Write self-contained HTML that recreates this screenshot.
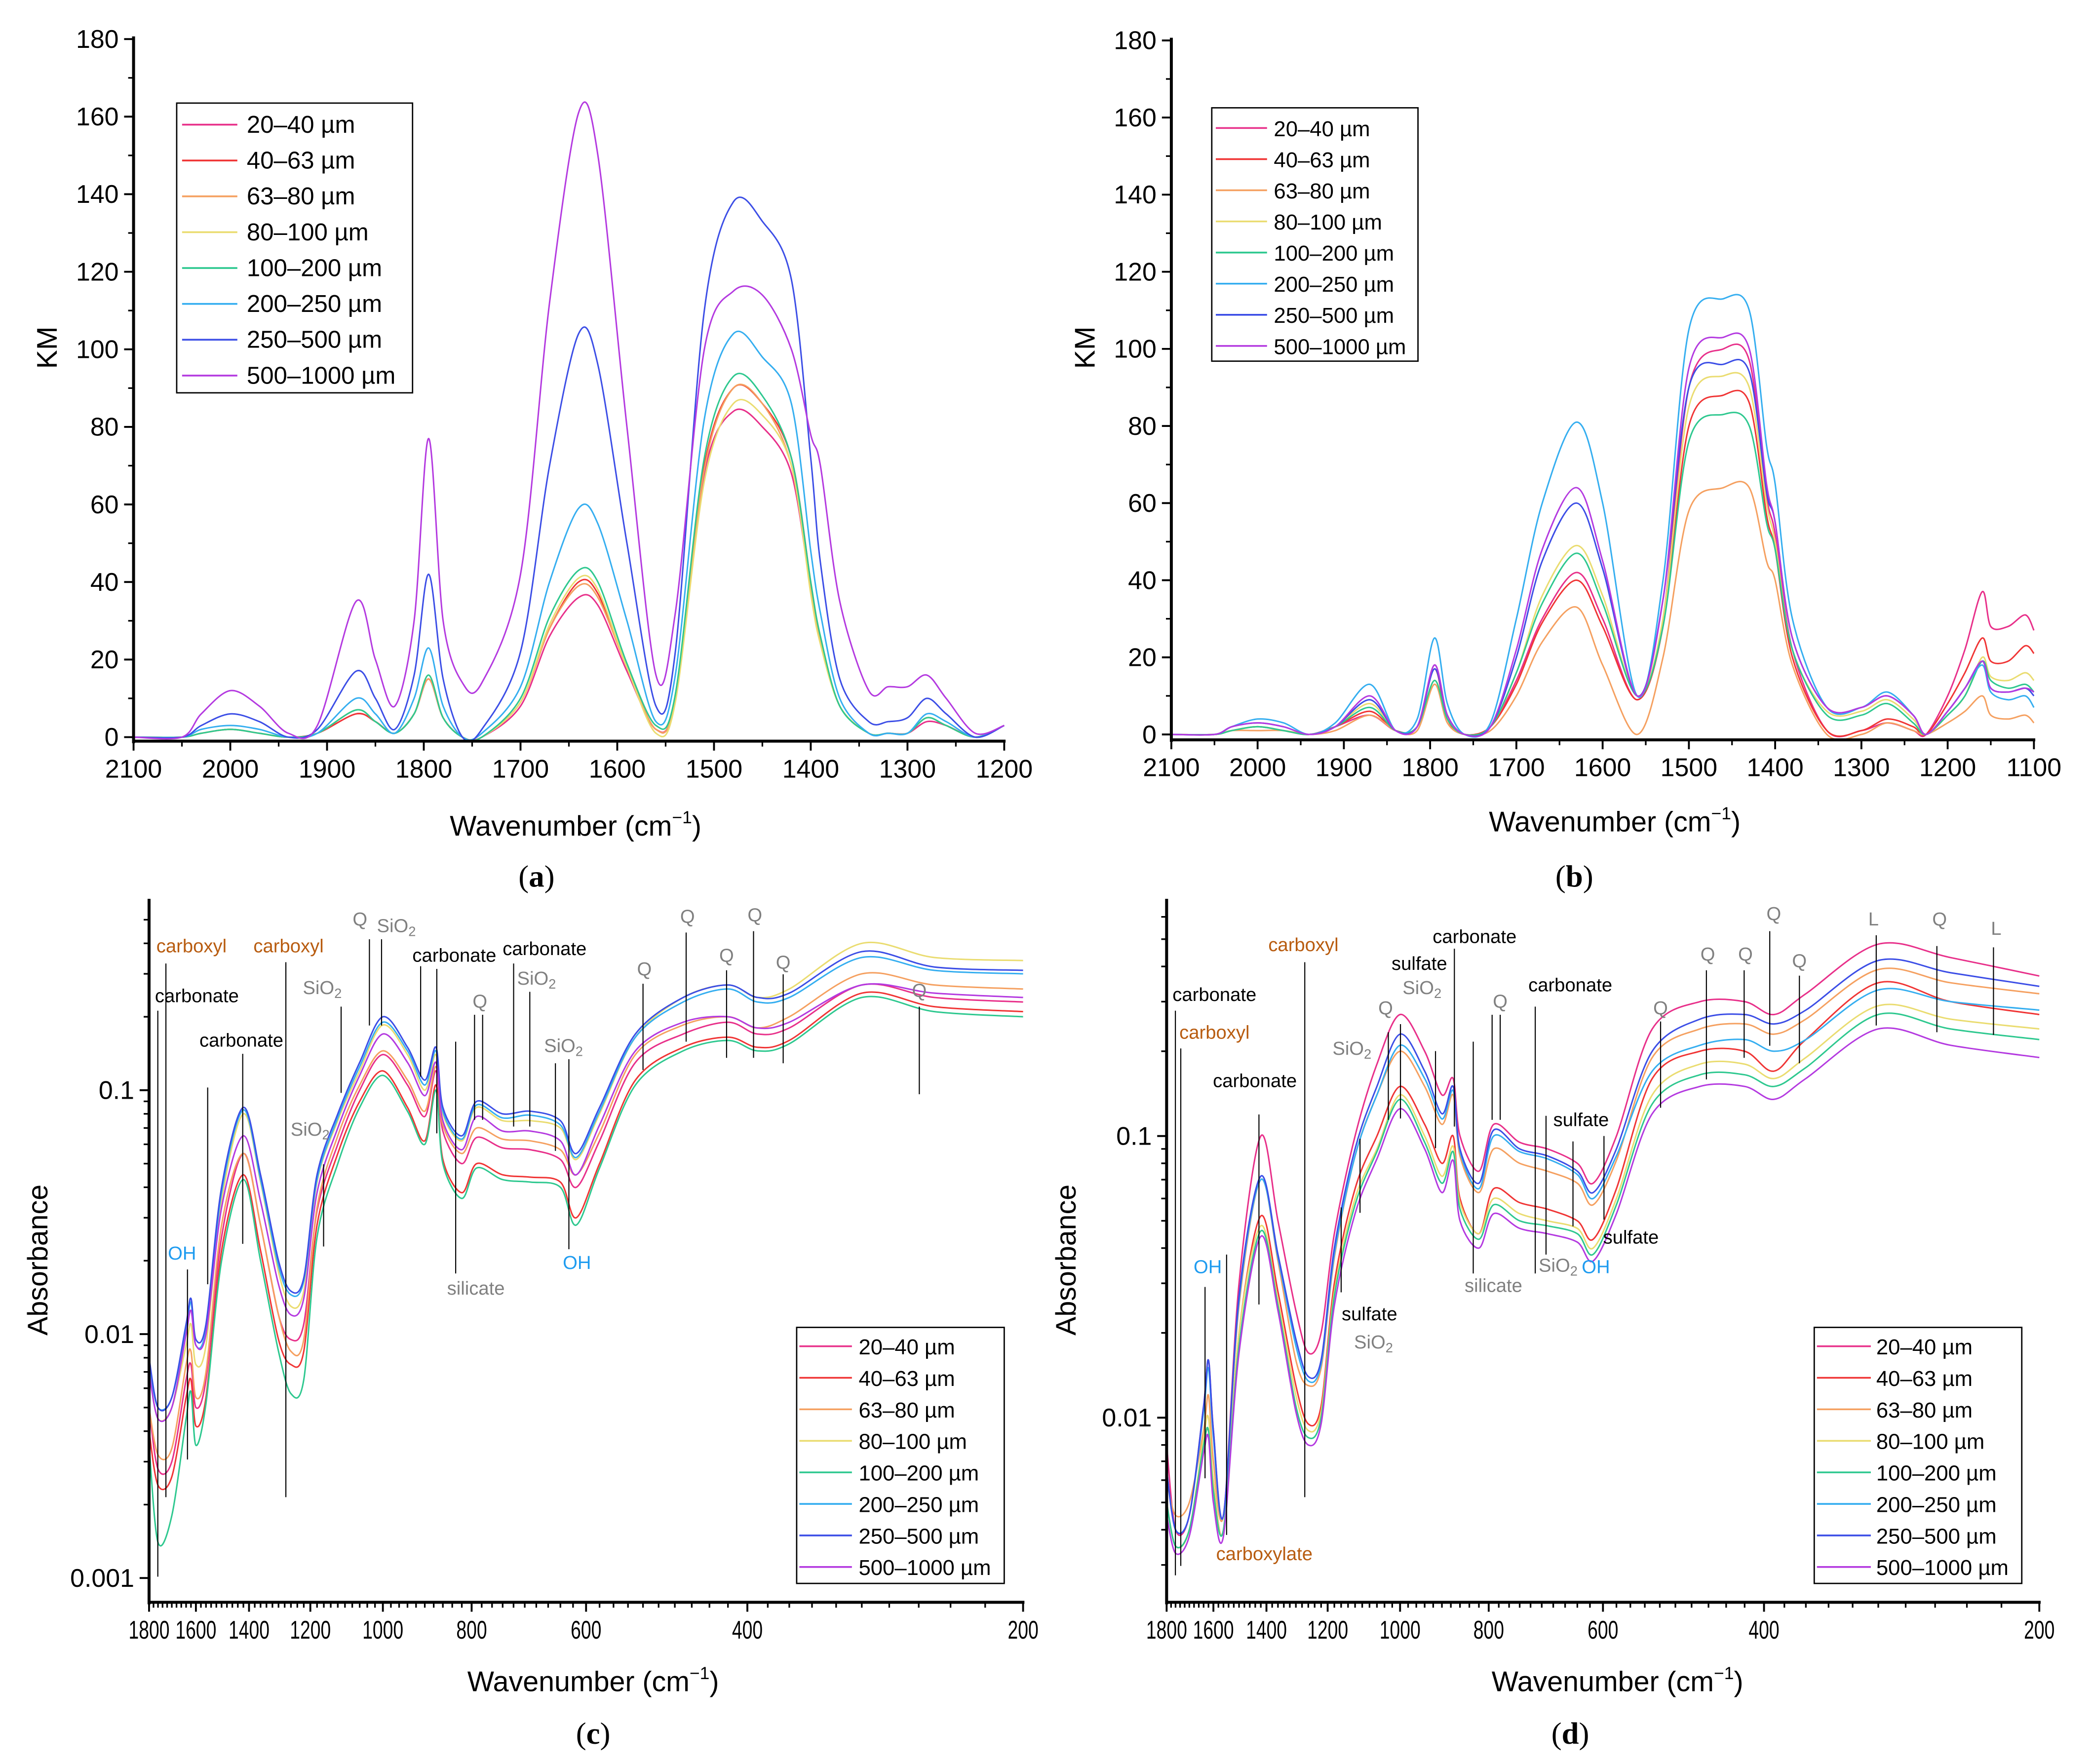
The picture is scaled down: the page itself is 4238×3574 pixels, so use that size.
<!DOCTYPE html>
<html><head><meta charset="utf-8"><style>
html,body{margin:0;padding:0;background:#fff;}
svg{display:block;}
text{font-family:"Liberation Sans Narrow","Liberation Sans",sans-serif;}
</style></head><body>
<svg id="fig" xmlns="http://www.w3.org/2000/svg" width="4238" height="3574" viewBox="0 0 1552 1309"></svg>
<script>
const seriesNames=["20–40 µm","40–63 µm","63–80 µm","80–100 µm","100–200 µm","200–250 µm","250–500 µm","500–1000 µm"];
const seriesColors=["#e8308a","#f03535","#f5a060","#eadc70","#2ec88f","#35aef0","#3c4ee6","#b43ae0"];
// Panel (a)
const waveA=[2100,2050,2030,2000,1970,1940,1910,1870,1850,1830,1810,1795,1780,1760,1740,1700,1670,1640,1620,1590,1560,1540,1510,1480,1450,1420,1400,1390,1370,1340,1320,1300,1280,1260,1230,1200];
const a20=[0,0,1,2,1,0,1,6,4,1,6,15,5,0,0,8,26,36,34,17,2,10,68,84,80,68,38,25,8,1,1,1,4,3,0,3];
const a40=[0,0,1,2,1,0,1,6,4,1,6,15,5,0,0,9,28,40,37,18,2,10,70,90,86,72,40,25,8,1,1,1,5,3,0,3];
const a63=[0,0,1,2,1,0,1,7,4,1,6,15,5,0,0,9,28,39,36,18,2,10,69,90,86,70,38,25,8,1,1,1,5,3,0,3];
const a80=[0,0,1,2,1,0,1,7,4,1,6,16,5,0,0,9,29,41,38,18,1,9,66,86,83,70,37,24,8,1,1,1,5,3,0,3];
const a100=[0,0,1,2,1,0,1,7,4,1,6,16,5,0,0,10,31,43,40,19,3,11,72,93,88,72,40,26,8,1,1,1,5,3,0,3];
const a200=[0,0,2,3,2,0,1,10,6,1,10,23,8,0,1,13,40,59,55,30,4,16,82,104,98,86,48,32,10,1,1,1,6,4,0,3];
const a250=[0,0,3,6,4,0,2,17,10,2,16,42,15,0,2,22,70,104,96,50,8,22,110,138,133,118,72,45,15,4,4,5,10,6,0,3];
const a500=[0,0,6,12,8,1,3,35,20,8,30,77,30,14,14,42,112,161,150,80,16,32,100,115,114,100,78,70,35,12,13,13,16,10,1,3];
// Panel (b)
const waveB=[2100,2050,2030,2000,1970,1940,1910,1870,1840,1815,1795,1780,1760,1730,1700,1670,1630,1600,1560,1530,1500,1460,1430,1410,1400,1380,1340,1300,1270,1240,1225,1200,1180,1160,1150,1130,1110,1100];
const b20=[0,0,1,2,1,0,2,5,1,2,18,5,0,2,14,30,42,30,9,30,90,100,97,62,52,22,1,1,3,1,0,10,22,37,28,28,31,27];
const b40=[0,0,1,2,1,0,2,6,1,2,17,4,0,2,13,29,40,28,9,28,80,88,86,57,48,20,1,1,4,2,0,8,16,25,19,19,23,21];
const b63=[0,0,1,1,1,0,1,5,1,1,13,3,0,1,10,24,33,18,0,20,58,64,64,45,40,18,0,0,3,1,0,3,6,10,5,4,5,3];
const b80=[0,0,1,2,1,0,2,8,1,2,14,4,0,2,16,36,49,36,10,30,85,93,90,60,50,22,6,6,9,4,0,5,10,20,15,14,16,14];
const b100=[0,0,1,2,1,0,2,7,1,2,14,4,0,2,16,34,47,34,10,28,76,83,80,55,48,22,5,5,8,3,0,5,10,19,14,12,13,11];
const b200=[0,0,2,4,3,0,3,13,1,4,25,8,0,3,30,60,81,60,10,40,105,113,110,75,65,30,7,7,11,5,0,6,12,18,11,9,10,7];
const b250=[0,0,2,3,2,0,2,9,1,2,17,5,0,2,20,45,60,43,10,35,90,96,94,63,55,25,7,7,10,5,0,6,12,19,12,11,12,10];
const b500=[0,0,2,3,2,0,2,10,1,2,18,5,0,2,22,48,64,45,10,35,95,103,100,65,55,25,7,7,10,5,0,6,12,19,12,11,12,11];
// Panel (c)
const waveC=[1800,1760,1700,1640,1620,1600,1560,1500,1420,1360,1300,1260,1220,1180,1120,1060,1000,940,900,875,860,820,790,740,690,640,615,580,530,470,420,390,360,300,250,200];
const c20=[0.005,0.0028,0.003,0.0065,0.0075,0.005,0.0065,0.025,0.055,0.028,0.012,0.0095,0.011,0.032,0.06,0.1,0.14,0.105,0.078,0.12,0.068,0.05,0.064,0.058,0.057,0.052,0.04,0.062,0.13,0.17,0.19,0.17,0.18,0.27,0.24,0.23];
const c40=[0.004,0.0024,0.0026,0.0055,0.0065,0.0042,0.0055,0.022,0.045,0.022,0.0095,0.0075,0.0085,0.028,0.055,0.09,0.12,0.085,0.062,0.105,0.052,0.038,0.05,0.045,0.044,0.042,0.03,0.05,0.11,0.15,0.165,0.15,0.16,0.25,0.22,0.21];
const c63=[0.005,0.0032,0.0034,0.0075,0.0085,0.0055,0.007,0.028,0.055,0.028,0.012,0.0085,0.0095,0.033,0.065,0.105,0.145,0.11,0.082,0.125,0.072,0.055,0.07,0.063,0.062,0.057,0.045,0.067,0.14,0.185,0.2,0.18,0.2,0.3,0.27,0.26];
const c80=[0.007,0.0045,0.005,0.009,0.011,0.0075,0.009,0.035,0.08,0.042,0.018,0.013,0.015,0.042,0.075,0.12,0.185,0.14,0.1,0.14,0.08,0.062,0.085,0.075,0.075,0.07,0.052,0.08,0.165,0.24,0.27,0.24,0.26,0.4,0.35,0.34];
const c100=[0.0035,0.0014,0.0018,0.0045,0.0058,0.0035,0.0052,0.02,0.043,0.02,0.0085,0.0057,0.0065,0.025,0.05,0.085,0.115,0.082,0.06,0.1,0.05,0.036,0.048,0.043,0.042,0.04,0.028,0.048,0.105,0.145,0.16,0.145,0.155,0.24,0.21,0.2];
const c200=[0.0075,0.005,0.0055,0.0105,0.0135,0.009,0.0105,0.038,0.083,0.043,0.019,0.0145,0.0165,0.043,0.077,0.125,0.19,0.145,0.105,0.145,0.082,0.063,0.087,0.077,0.079,0.072,0.053,0.082,0.165,0.23,0.26,0.23,0.24,0.35,0.31,0.3];
const c250=[0.008,0.005,0.0055,0.011,0.014,0.0095,0.011,0.04,0.085,0.045,0.02,0.015,0.017,0.045,0.08,0.13,0.2,0.15,0.11,0.15,0.085,0.065,0.09,0.08,0.082,0.075,0.055,0.085,0.17,0.24,0.27,0.24,0.25,0.37,0.32,0.31];
const c500=[0.007,0.0045,0.005,0.01,0.0125,0.009,0.01,0.033,0.065,0.035,0.016,0.012,0.014,0.038,0.07,0.115,0.17,0.13,0.095,0.13,0.075,0.057,0.078,0.068,0.068,0.062,0.045,0.072,0.145,0.19,0.2,0.18,0.19,0.27,0.25,0.24];
// Panel (d)
const waveD=[1800,1760,1700,1640,1620,1600,1560,1500,1420,1360,1300,1260,1220,1180,1120,1060,1000,940,900,875,860,820,790,740,690,640,615,580,530,470,420,390,360,300,250,200];
const d20=[0.008,0.004,0.0045,0.011,0.016,0.009,0.0045,0.03,0.1,0.05,0.024,0.017,0.02,0.045,0.1,0.18,0.27,0.2,0.14,0.16,0.1,0.075,0.11,0.095,0.09,0.08,0.068,0.1,0.24,0.3,0.3,0.27,0.32,0.48,0.43,0.37];
const d40=[0.005,0.0035,0.004,0.008,0.009,0.006,0.004,0.02,0.052,0.028,0.013,0.0095,0.011,0.03,0.065,0.1,0.15,0.11,0.08,0.1,0.06,0.045,0.065,0.058,0.055,0.05,0.043,0.065,0.16,0.2,0.2,0.17,0.22,0.35,0.3,0.27];
const d63=[0.006,0.0045,0.005,0.009,0.012,0.007,0.0045,0.025,0.07,0.036,0.016,0.013,0.015,0.037,0.085,0.14,0.2,0.15,0.11,0.14,0.085,0.063,0.09,0.08,0.075,0.068,0.057,0.082,0.19,0.24,0.25,0.23,0.26,0.39,0.35,0.32];
const d80=[0.005,0.0035,0.004,0.0085,0.01,0.006,0.004,0.02,0.048,0.026,0.012,0.009,0.0105,0.028,0.06,0.09,0.14,0.1,0.072,0.092,0.058,0.045,0.06,0.053,0.05,0.047,0.04,0.06,0.14,0.18,0.18,0.16,0.19,0.29,0.26,0.24];
const d100=[0.005,0.0035,0.004,0.008,0.009,0.0055,0.004,0.018,0.046,0.025,0.011,0.0085,0.01,0.027,0.057,0.088,0.135,0.095,0.068,0.088,0.055,0.043,0.057,0.05,0.048,0.045,0.038,0.057,0.13,0.165,0.165,0.15,0.175,0.27,0.24,0.22];
const d200=[0.0065,0.004,0.0045,0.0105,0.015,0.0085,0.0045,0.026,0.07,0.037,0.018,0.0135,0.0155,0.038,0.085,0.14,0.21,0.16,0.115,0.145,0.088,0.065,0.1,0.088,0.083,0.073,0.06,0.085,0.17,0.21,0.22,0.2,0.22,0.33,0.3,0.28];
const d250=[0.0065,0.004,0.0045,0.011,0.016,0.009,0.0045,0.027,0.072,0.038,0.019,0.014,0.016,0.04,0.09,0.15,0.23,0.17,0.12,0.15,0.09,0.068,0.105,0.09,0.085,0.075,0.063,0.09,0.2,0.26,0.27,0.25,0.28,0.42,0.38,0.34];
const d500=[0.0045,0.0033,0.0038,0.0075,0.0085,0.005,0.0038,0.017,0.044,0.024,0.0105,0.008,0.0095,0.025,0.053,0.083,0.125,0.09,0.063,0.082,0.05,0.04,0.053,0.047,0.045,0.042,0.036,0.053,0.12,0.15,0.15,0.135,0.16,0.24,0.21,0.19];
const linTicks=[0,20,40,60,80,100,120,140,160,180];
const xTicksAB=[2100,2000,1900,1800,1700,1600,1500,1400,1300,1200,1100];
const xTicksCD=[1800,1600,1400,1200,1000,800,600,400,200];
const logTicks=[0.001,0.01,0.1];

const NS="http://www.w3.org/2000/svg";
const svg=document.getElementById('fig');
function el(tag,attrs,parent,txt){const e=document.createElementNS(NS,tag);for(const k in attrs)e.setAttribute(k,attrs[k]);if(txt!==undefined)e.textContent=txt;(parent||svg).appendChild(e);return e;}
function smooth(pts){let d="M"+pts[0][0].toFixed(2)+","+pts[0][1].toFixed(2);for(let i=0;i<pts.length-1;i++){const p0=pts[Math.max(0,i-1)],p1=pts[i],p2=pts[i+1],p3=pts[Math.min(pts.length-1,i+2)];const t=0.16;const c1=[p1[0]+(p2[0]-p0[0])*t,p1[1]+(p2[1]-p0[1])*t];const c2=[p2[0]-(p3[0]-p1[0])*t,p2[1]-(p3[1]-p1[1])*t];d+="C"+c1[0].toFixed(2)+","+c1[1].toFixed(2)+" "+c2[0].toFixed(2)+","+c2[1].toFixed(2)+" "+p2[0].toFixed(2)+","+p2[1].toFixed(2);}return d;}

function panel(cfg){
  const g=el('g',{});  
  const X=cfg.xfn, Y=cfg.yfn;
  const sg=el('g',{},g);  
  cfg.series.forEach((vals,i)=>{
    const pts=cfg.wave.map((w,j)=>[X(w),Math.min(cfg.yBottom,Y(vals[j]))]);
    const p=el('path',{d:smooth(pts),fill:'none',stroke:seriesColors[i],'stroke-width':1.1},sg);
    
    
  });
  if(cfg.ann){const ag=el('g',{},g);
    cfg.lines.forEach(l=>{const ln=el('line',{x1:l[0],x2:l[0],y1:l[1],y2:l[2],stroke:'#000','stroke-width':0.8},ag);});
    cfg.ann.forEach(a=>{const col={k:'#000',o:'#b85c10',g:'#808080',b:'#1f9cf0'}[a[3]];
      const t=el('text',{x:a[1],y:a[2],'font-size':14,fill:col,'text-anchor':'middle','dominant-baseline':'middle'},ag);
      if(a[0]==='SiO2'){t.textContent='SiO';el('tspan',{'font-size':10,dy:4},t,'2');}else t.textContent=a[0];
      });
  }
  const ax=el('g',{},g);  
  el('line',{x1:cfg.xLeft,x2:cfg.xLeft,y1:cfg.yTop,y2:cfg.yAxis+1.5,stroke:'#000','stroke-width':2.2},ax);
  el('line',{x1:cfg.xLeft-1,x2:cfg.xRight+1,y1:cfg.yAxis,y2:cfg.yAxis,stroke:'#000','stroke-width':2.2},ax);
  cfg.xMinor.forEach(w=>el('line',{x1:X(w),x2:X(w),y1:cfg.yAxis,y2:cfg.yAxis+4,stroke:'#000','stroke-width':1.2},ax));
  cfg.xTicks.forEach(w=>{el('line',{x1:X(w),x2:X(w),y1:cfg.yAxis,y2:cfg.yAxis+7,stroke:'#000','stroke-width':1.4},ax);
    const attrs={x:X(w),y:cfg.yAxis+27,'font-size':cfg.tickFs,'text-anchor':'middle'};
    if(cfg.narrowX){attrs.textLength=String(w).length*7.6;attrs.lengthAdjust='spacingAndGlyphs';}
    const t=el('text',attrs,ax,String(w));});
  cfg.yMinor.filter(v=>Y(v)>=cfg.yTop&&Y(v)<=cfg.yAxis).forEach(v=>el('line',{x1:cfg.xLeft-4,x2:cfg.xLeft,y1:Y(v),y2:Y(v),stroke:'#000','stroke-width':1.2},ax));
  cfg.yTicks.forEach(v=>{el('line',{x1:cfg.xLeft-7,x2:cfg.xLeft,y1:Y(v),y2:Y(v),stroke:'#000','stroke-width':1.4},ax);
    const t=el('text',{x:cfg.xLeft-11,y:Y(v)+6.5,'font-size':cfg.tickFs,'text-anchor':'end'},ax,String(v));});
  const xt=el('text',{x:cfg.xTitle[0],y:cfg.xTitle[1],'font-size':21,'text-anchor':'middle',style:'font-family:"Liberation Sans",sans-serif'},g,'Wavenumber (cm');
  el('tspan',{'font-size':13,dy:-9},xt,'−1'); el('tspan',{dy:9},xt,')');
  
  const yt=el('text',{x:0,y:0,'font-size':21,'text-anchor':'middle',transform:`translate(${cfg.yTitle[0]},${cfg.yTitle[1]}) rotate(-90)`,style:'font-family:"Liberation Sans",sans-serif'},g,cfg.yLabel);
  
  const pl=el('text',{x:cfg.label[0],y:cfg.label[1],'font-size':23,'text-anchor':'middle',style:'font-family:"Liberation Serif",serif'},g,'(');
  el('tspan',{'font-weight':'bold'},pl,cfg.letter); el('tspan',{},pl,')');
  
  const L=cfg.legend; const lg=el('g',{},g);  
  el('rect',{x:L.x,y:L.y,width:L.w,height:L.h,fill:'#fff',stroke:'#000','stroke-width':1},lg);
  seriesNames.forEach((n,i)=>{const yy=L.first+i*L.step;
    const e=el('g',{},lg);  
    el('line',{x1:L.lx1,x2:L.lx2,y1:yy,y2:yy,stroke:seriesColors[i],'stroke-width':1.3},e);
    el('text',{x:L.tx,y:yy+6,'font-size':L.fs},e,n);});
}
function minorsLin(a,b,s){const r=[];for(let v=a;v<=b;v+=s)r.push(v);return r;}
function logMinors(lo,hi){const r=[];for(let d=lo;d<hi;d*=10){for(let k=2;k<=9;k++)if(d*k<=hi)r.push(+(d*k).toPrecision(3));}return r;}
function minorsX(){const r=[];for(let w=200;w<=1800;w+=20)r.push(w);return r;}

{const xL=99,xR=745,y0=547,y1=29;
 panel({name:'panel-a',letter:'a',wave:waveA,series:[a20,a40,a63,a80,a100,a200,a250,a500],
  xfn:w=>xL+(2100-w)/900*(xR-xL), yfn:v=>y0-(v/180)*(y0-y1), yBottom:y0, xLeft:xL,xRight:xR,yTop:y1-2,yAxis:y0+3,
  xTicks:xTicksAB.filter(w=>w>=1200), xMinor:minorsLin(1200,2100,50), yTicks:linTicks, yMinor:minorsLin(10,170,20), tickFs:19,
  xTitle:[427,620], yTitle:[42,258], yLabel:'KM', label:[398,658],
  legend:{x:131,y:76.5,w:175,h:215,first:92.5,step:26.6,lx1:135,lx2:176,tx:183,fs:18}});}
{const xL=869,xR=1509,y0=545,y1=30;
 panel({name:'panel-b',letter:'b',wave:waveB,series:[b20,b40,b63,b80,b100,b200,b250,b500],
  xfn:w=>xL+(2100-w)/1000*(xR-xL), yfn:v=>y0-(v/180)*(y0-y1), yBottom:y0, xLeft:xL,xRight:xR,yTop:y1-2,yAxis:y0+4,
  xTicks:xTicksAB, xMinor:minorsLin(1100,2100,50), yTicks:linTicks, yMinor:minorsLin(10,170,20), tickFs:19,
  xTitle:[1198,617], yTitle:[812,258], yLabel:'KM', label:[1168,658],
  legend:{x:899,y:80,w:153,h:188,first:95,step:23.1,lx1:902,lx2:940,tx:945,fs:16}});}
{const xL=110.5,xR=759,l1=Math.log(1800),l0=Math.log(200),y01=809,dec=181;
 panel({name:'panel-c',letter:'c',wave:waveC,series:[c20,c40,c63,c80,c100,c200,c250,c500],
  xfn:w=>xL+(l1-Math.log(w))/(l1-l0)*(xR-xL), yfn:v=>y01-Math.log10(v/0.1)*dec, yBottom:1187, xLeft:xL,xRight:xR,yTop:667,yAxis:1189,
  xTicks:xTicksCD, xMinor:minorsX(), yTicks:logTicks, yMinor:logMinors(0.001,0.6).filter(v=>v>0.00085), tickFs:19, narrowX:true,
  xTitle:[440,1255], yTitle:[35,935], yLabel:'Absorbance', label:[440,1294],
  legend:{x:591,y:985,w:154,h:190,first:999,step:23.4,lx1:593,lx2:632,tx:637,fs:16},
  lines:[[117,750,1170],[123,715,1111],[180,782,923],[139,942,1083],[154,807,953],[212,714,1111],[253,747,811],[240,864,925],[274,697,761],[283,697,761],[312,717,799],[324,719,841],[352,753,831],[358,753,831],[338,773,945],[381,715,836],[393,736,836],[412,789,854],[422,786,927],[477,730,794],[509,692,773],[539,720,785],[559,691,785],[581,723,789],[682,747,812]],
  ann:[['carboxyl',142,703,'o'],['carboxyl',214,703,'o'],['carbonate',146,740,'k'],['carbonate',179,773,'k'],['OH',135,931,'b'],['SiO2',239,734,'g'],['SiO2',230,839,'g'],['Q',267,683,'g'],['SiO2',294,688,'g'],['carbonate',337,710,'k'],['Q',356,744,'g'],['silicate',353,957,'g'],['carbonate',404,705,'k'],['SiO2',398,727,'g'],['SiO2',418,777,'g'],['OH',428,938,'b'],['Q',478,720,'g'],['Q',510,681,'g'],['Q',539,710,'g'],['Q',560,680,'g'],['Q',581,715,'g'],['Q',682,736,'g']]});}
{const xL=865.5,xR=1513,l1=Math.log(1800),l0=Math.log(200),y01=843,dec=209;
 panel({name:'panel-d',letter:'d',wave:waveD,series:[d20,d40,d63,d80,d100,d200,d250,d500],
  xfn:w=>xL+(l1-Math.log(w))/(l1-l0)*(xR-xL), yfn:v=>y01-Math.log10(v/0.1)*dec, yBottom:1187, xLeft:xL,xRight:xR,yTop:667,yAxis:1189,
  xTicks:xTicksCD, xMinor:minorsX(), yTicks:[0.01,0.1], yMinor:logMinors(0.001,0.8).filter(v=>v>0.0023), tickFs:19, narrowX:true,
  xTitle:[1200,1255], yTitle:[798,935], yLabel:'Absorbance', label:[1165,1294],
  legend:{x:1346,y:985,w:154,h:190,first:999,step:23.4,lx1:1348,lx2:1388,tx:1392,fs:16},
  lines:[[872,750,1169],[876,778,1162],[934,827,968],[894,955,1097],[910,931,1139],[968,714,1111],[995,896,959],[1009,845,900],[1030,766,831],[1039,760,830],[1079,704,836],[1065,780,852],[1093,773,945],[1107,753,831],[1113,753,831],[1139,747,945],[1147,828,931],[1167,847,910],[1190,843,905],[1232,758,822],[1266,720,801],[1294,720,785],[1313,691,776],[1335,724,789],[1392,694,761],[1437,702,766],[1479,703,768]],
  ann:[['carbonate',901,739,'k'],['carboxyl',901,767,'o'],['carbonate',931,803,'k'],['OH',896,941,'b'],['carboxylate',938,1154,'o'],['carboxyl',967,702,'o'],['sulfate',1016,976,'k'],['SiO2',1019,997,'g'],['SiO2',1003,779,'g'],['Q',1028,749,'g'],['sulfate',1053,716,'k'],['SiO2',1055,734,'g'],['carbonate',1094,696,'k'],['silicate',1108,955,'g'],['Q',1113,744,'g'],['carbonate',1165,732,'k'],['sulfate',1173,832,'k'],['SiO2',1156,940,'g'],['OH',1184,941,'b'],['sulfate',1210,919,'k'],['Q',1232,749,'g'],['Q',1267,709,'g'],['Q',1295,709,'g'],['Q',1316,679,'g'],['Q',1335,714,'g'],['L',1390,683,'g'],['Q',1439,683,'g'],['L',1481,690,'g']]});}
</script>
</body></html>
